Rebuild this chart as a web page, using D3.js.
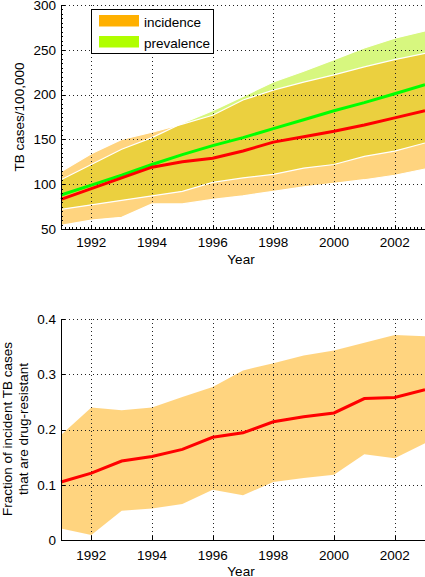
<!DOCTYPE html>
<html><head><meta charset="utf-8">
<script src="https://cdn.jsdelivr.net/npm/d3@7"></script>
<style>
body{margin:0;background:#fff;}
text{font-family:"Liberation Sans",Arial,Helvetica,sans-serif;fill:#000;}
</style></head>
<body>
<svg id="c" width="425" height="577"></svg>
<script>
// ---- data ----
const years = [1991,1992,1993,1994,1995,1996,1997,1998,1999,2000,2001,2002,2003];
const incidenceMean = [83,95,107,119,125,129,137,147,153,159,166,174,182];
const incidenceLow  = [54,60,63,78,78,83,87,92,97,101,105,110,117];
const incidenceHigh = [114,134,150,158,167,177,194,205,214,222,231,239,246];
const prevalenceMean = [88,99,110,122,133,143,152,162,172,182,191,201,211];
const prevalenceLow  = [72,77,82,87,92,102,107,111,118,122,131,137,146];
const prevalenceHigh = [105,122,139,152,168,182,198,214,226,239,252,263,271];
const resistantMean = [0.105,0.121,0.143,0.151,0.164,0.186,0.194,0.214,0.223,0.230,0.256,0.258,0.272];
const resistantLow  = [0.021,0.009,0.053,0.057,0.065,0.091,0.081,0.105,0.112,0.118,0.155,0.148,0.175];
const resistantHigh = [0.190,0.240,0.235,0.240,0.259,0.277,0.307,0.320,0.334,0.343,0.357,0.371,0.369];
const xTicks = [1992,1994,1996,1998,2000,2002];
const yTicksTop = [50,100,150,200,250,300];
const yTicksBottom = [0,0.1,0.2,0.3,0.4];
const legendLabels = ["incidence","prevalence"];

const svg = d3.select("#c");
const FS = 13.5;

function panel(cfg){
  const g = svg.append("g");
  const x = d3.scaleLinear().domain([1991,2003]).range([61,425]);
  const y = d3.scaleLinear().domain(cfg.ydom).range([cfg.y0, cfg.y1]);
  cfg.draw(g, x, y);
  // grid
  const grid = g.append("g").attr("stroke","#222").attr("stroke-width",1).attr("stroke-dasharray","1,3").attr("shape-rendering","crispEdges");
  xTicks.forEach(t=>grid.append("line").attr("x1",Math.round(x(t))+0.5).attr("x2",Math.round(x(t))+0.5).attr("y1",cfg.y1).attr("y2",cfg.y0));
  cfg.yticks.forEach(t=>{ if(t!==cfg.ydom[0]) grid.append("line").attr("x1",61).attr("x2",425).attr("y1",Math.round(y(t))+0.5).attr("y2",Math.round(y(t))+0.5);});
  if(cfg.lines) cfg.lines(g,x,y);
  // axes
  const ax = g.append("g").attr("stroke","#000").attr("shape-rendering","crispEdges");
  ax.append("line").attr("x1",61.5).attr("x2",61.5).attr("y1",cfg.y1).attr("y2",cfg.y0+0.5);
  ax.append("line").attr("x1",61).attr("x2",425).attr("y1",cfg.y0+0.5).attr("y2",cfg.y0+0.5);
  xTicks.forEach(t=>ax.append("line").attr("x1",Math.round(x(t))+0.5).attr("x2",Math.round(x(t))+0.5).attr("y1",cfg.y0).attr("y2",cfg.y0-4));
  cfg.yticks.forEach(t=>ax.append("line").attr("x1",61).attr("x2",65).attr("y1",Math.round(y(t))+0.5).attr("y2",Math.round(y(t))+0.5));
  if(cfg.minor){
    for(let t=1991;t<=2003;t+=0.125) ax.append("line").attr("x1",Math.round(x(t))+0.5).attr("x2",Math.round(x(t))+0.5).attr("y1",cfg.y0).attr("y2",cfg.y0-2);
    for(let v=cfg.ydom[0];v<=cfg.ydom[1];v+=5) ax.append("line").attr("x1",61).attr("x2",63).attr("y1",Math.round(y(v))+0.5).attr("y2",Math.round(y(v))+0.5);
  }
  // tick labels
  xTicks.forEach(t=>g.append("text").attr("x",x(t)).attr("y",cfg.y0+cfg.xlabOff).attr("text-anchor","middle").attr("font-size",FS).text(String(t)));
  cfg.yticks.forEach(t=>g.append("text").attr("x",56).attr("y",y(t)).attr("dy","0.36em").attr("text-anchor","end").attr("font-size",FS).text(cfg.fmt(t)));
  g.append("text").attr("x",241).attr("y",cfg.y0+cfg.yearOff).attr("text-anchor","middle").attr("font-size",FS).text("Year");
  return {x,y,g};
}

// top panel
panel({
  ydom:[50,300], y0:229, y1:5, yticks:yTicksTop, fmt:d=>String(d), minor:true, xlabOff:18, yearOff:35,
  draw:(g,x,y)=>{
    const aP = d3.area().x((d,i)=>x(years[i])).y0((d,i)=>y(prevalenceLow[i])).y1((d,i)=>y(prevalenceHigh[i]));
    const aI = d3.area().x((d,i)=>x(years[i])).y0((d,i)=>y(incidenceLow[i])).y1((d,i)=>y(incidenceHigh[i]));
    g.append("path").attr("d",aP(years)).attr("fill","rgb(176,240,0)").attr("fill-opacity",0.5);
    g.append("path").attr("d",aI(years)).attr("fill","rgb(255,170,0)").attr("fill-opacity",0.5);
    const ln = arr=>d3.line().x((d,i)=>x(years[i])).y((d,i)=>y(arr[i]))(years);
    [prevalenceLow,prevalenceHigh,incidenceLow,incidenceHigh].forEach(a=>g.append("path").attr("d",ln(a)).attr("fill","none").attr("stroke","#fff").attr("stroke-width",1.2));
  },
  lines:(g,x,y)=>{
    const ln = arr=>d3.line().x((d,i)=>x(years[i])).y((d,i)=>y(arr[i]))(years);
    g.append("path").attr("d",ln(prevalenceMean)).attr("fill","none").attr("stroke","#00ff00").attr("stroke-width",3);
    g.append("path").attr("d",ln(incidenceMean)).attr("fill","none").attr("stroke","#ff0000").attr("stroke-width",3);
  }
});

// bottom panel
panel({
  ydom:[0,0.4], y0:540, y1:319, yticks:yTicksBottom, fmt:d=>d===0?"0":d3.format(".1f")(d), minor:false, xlabOff:20, yearOff:36,
  draw:(g,x,y)=>{
    const a = d3.area().x((d,i)=>x(years[i])).y0((d,i)=>y(resistantLow[i])).y1((d,i)=>y(resistantHigh[i]));
    g.append("path").attr("d",a(years)).attr("fill","rgb(255,170,0)").attr("fill-opacity",0.5);
  },
  lines:(g,x,y)=>{
    const ln = d3.line().x((d,i)=>x(years[i])).y((d,i)=>y(resistantMean[i]));
    g.append("path").attr("d",ln(years)).attr("fill","none").attr("stroke","#ff0000").attr("stroke-width",3);
  }
});

// y labels
svg.append("text").attr("transform","translate(24,117) rotate(-90)").attr("text-anchor","middle").attr("font-size",FS).text("TB cases/100,000");
svg.append("text").attr("transform","translate(12,429) rotate(-90)").attr("text-anchor","middle").attr("font-size",FS).text("Fraction of incident TB cases");
svg.append("text").attr("transform","translate(28,429) rotate(-90)").attr("text-anchor","middle").attr("font-size",FS).text("that are drug-resistant");

// legend
const lg = svg.append("g");
lg.append("rect").attr("x",91.5).attr("y",9.5).attr("width",122).attr("height",44).attr("fill","#fff").attr("stroke","#000");
const legColors = ["rgb(255,176,0)","rgb(176,255,0)"];
legendLabels.forEach((l,i)=>{
  lg.append("rect").attr("x",99).attr("y",15+i*21).attr("width",40).attr("height",11.5).attr("fill",legColors[i]);
  lg.append("text").attr("x",144).attr("y",25.5+i*21).attr("dy","0.1em").attr("font-size",FS).text(l);
});
</script>
</body></html>
